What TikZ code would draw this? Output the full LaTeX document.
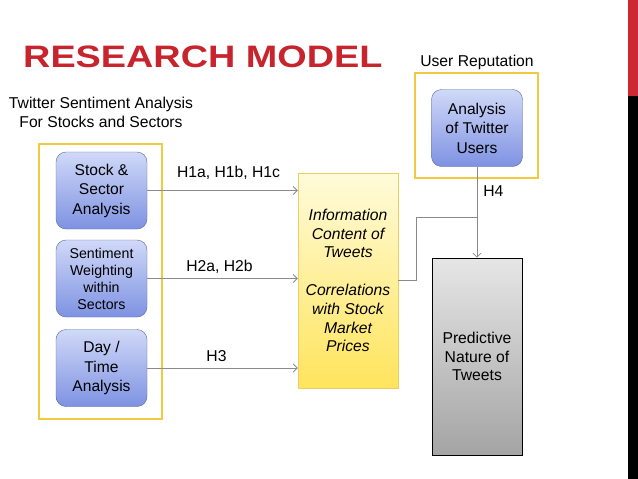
\documentclass[tikz,border=0pt]{standalone}
\usepackage{fontspec}
\setmainfont{Liberation Sans}
\usetikzlibrary{arrows.meta}
\definecolor{titlered}{RGB}{200,36,46}
\definecolor{barred}{RGB}{206,40,50}
\definecolor{bluetop}{RGB}{208,217,248}
\definecolor{bluebot}{RGB}{126,146,226}
\definecolor{blueline}{RGB}{92,104,150}
\definecolor{infotop}{RGB}{255,251,218}
\definecolor{infobot}{RGB}{255,228,92}
\definecolor{infoline}{RGB}{236,206,104}
\definecolor{frameyellow}{RGB}{240,202,64}
\definecolor{linkgray}{RGB}{138,138,138}
\definecolor{predtop}{RGB}{230,230,230}
\definecolor{predbot}{RGB}{164,164,164}
\begin{document}
\begin{tikzpicture}[x=1pt,y=-1pt,
    bluebox/.style={draw=blueline, rounded corners=10pt, top color=bluetop, bottom color=bluebot,
        minimum width=91pt, minimum height=77pt, align=center, inner sep=0pt,
        font=\fontsize{15.6}{19.5}\selectfont},
    frame/.style={draw=frameyellow, line width=2pt},
    link/.style={draw=linkgray, line width=0.8pt},
    arr/.style={link, -{Straight Barb[length=4pt,width=8pt]}},
    lbl/.style={font=\fontsize{15.7}{19}\selectfont, inner sep=0pt}]
    \useasboundingbox (0,0) rectangle (638,479);
    \fill[white] (0,0) rectangle (638,479);

    % side bar
    \fill[barred] (628,0) rectangle (638,96);
    \fill[black] (628,96) rectangle (638,479);

    % headings
    \node[anchor=base west, inner sep=0pt, text=titlered, font=\fontsize{31}{31}\selectfont\bfseries] (title) at (23,67)
        {\scalebox{1.22}[1]{RESEARCH MODEL}};
    \node[lbl, align=center] (sentlbl) at (101,112.5) {Twitter Sentiment Analysis\\For Stocks and Sectors};
    \node[lbl] (replbl) at (477,62) {User Reputation};

    % frames
    \draw[frame] (39,144) rectangle (162,419);
    \draw[frame] (415,73) rectangle (538,178);

    % boxes
    \node[bluebox] (stock) at (101.5,190.5) {Stock \&\\Sector\\Analysis};
    \node[bluebox, font=\fontsize{14.2}{17}\selectfont] (weight) at (101.5,278.5) {Sentiment\\Weighting\\within\\Sectors};
    \node[bluebox] (daytime) at (101.5,368) {Day /\\Time\\Analysis};
    \node[bluebox] (users) at (477,128) {Analysis\\of Twitter\\Users};
    \node[draw=infoline, top color=infotop, bottom color=infobot, minimum width=100pt, minimum height=215pt,
        align=center, inner sep=0pt, font=\fontsize{15.7}{18.8}\selectfont\itshape] (info) at (348,280.5)
        {Information\\Content of\\Tweets\\[18.8pt]Correlations\\with Stock\\Market\\Prices};
    \node[draw=black, line width=0.6pt, top color=predtop, bottom color=predbot, minimum width=90pt, minimum height=197pt,
        align=center, inner sep=0pt, font=\fontsize{15.7}{18.8}\selectfont] (pred) at (477,356.5)
        {Predictive\\Nature of\\Tweets};

    % hypotheses
    \draw[arr] (stock.east) -- (stock.east -| info.west) node[lbl, pos=0.54, above=11pt] {H1a, H1b, H1c};
    \draw[arr] (weight.east) -- (weight.east -| info.west) node[lbl, pos=0.48, above=5pt] {H2a, H2b};
    \draw[arr] (daytime.east) -- (daytime.east -| info.west) node[lbl, pos=0.46, above=6pt] {H3};
    \coordinate (join) at (477,217);
    \draw[link] (info.east) -- ++(18,0) |- (join);
    \draw[arr] (users.south) -- (pred.north) node[lbl, pos=0.27, right=6pt] {H4};
\end{tikzpicture}
\end{document}
